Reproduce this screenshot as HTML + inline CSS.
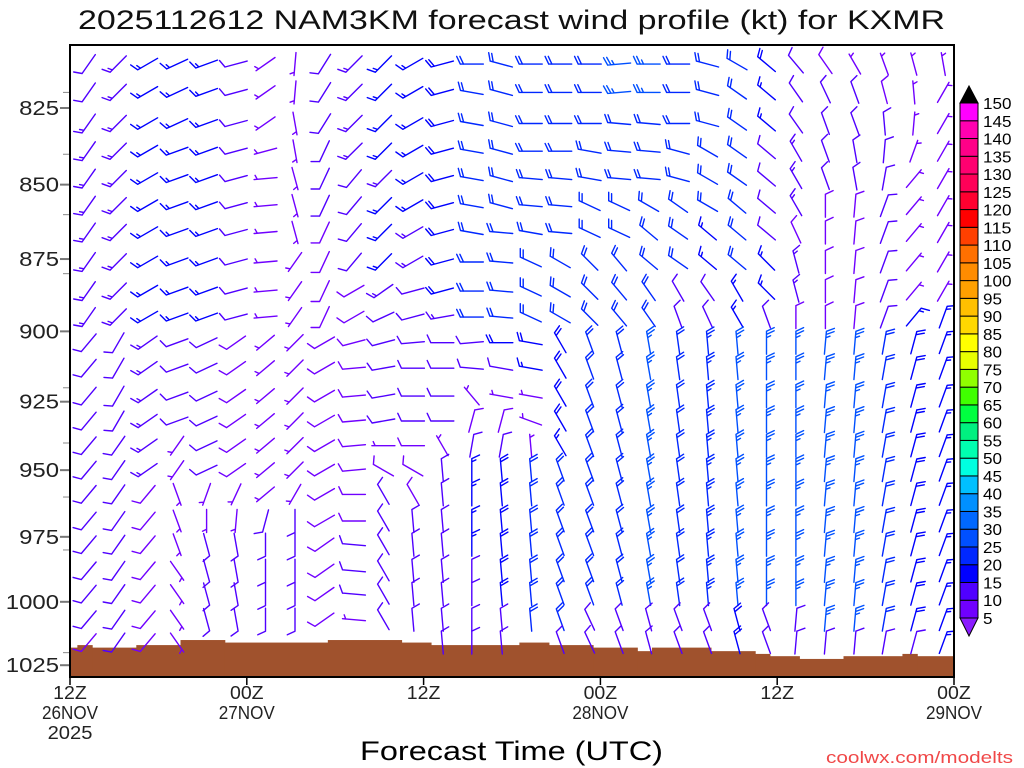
<!DOCTYPE html>
<html><head><meta charset="utf-8"><title>NAM3KM wind profile KXMR</title>
<style>
html,body{margin:0;padding:0;background:#fff;}
svg{display:block;font-family:"Liberation Sans",sans-serif;}
</style></head>
<body>
<svg id="chart" width="1024" height="768" viewBox="0 0 1024 768" xmlns="http://www.w3.org/2000/svg">
  <rect x="0" y="0" width="1024" height="768" fill="#fff"/>
  <text x="78" y="29" font-size="27" textLength="867" lengthAdjust="spacingAndGlyphs" fill="#111">2025112612 NAM3KM forecast wind profile (kt) for KXMR</text>
  <defs><clipPath id="plotclip"><rect x="70" y="45" width="884" height="632"/></clipPath></defs>
  <g id="terrain" clip-path="url(#plotclip)"></g>
  <g id="barbs" clip-path="url(#plotclip)"></g>
  <g id="yaxis"></g>
  <g id="xaxis"></g>
  <rect x="70" y="45" width="884" height="632" fill="none" stroke="#000" stroke-width="2"/>
  <g id="cbar"></g>
  <text x="360" y="760" font-size="27" textLength="303" lengthAdjust="spacingAndGlyphs" fill="#000">Forecast Time (UTC)</text>
  <text x="826" y="763" font-size="17" textLength="187" lengthAdjust="spacingAndGlyphs" fill="#f04848">coolwx.com/modelts</text>
</svg>
<script>
// ---- data ----
const levels = [811,820,830,839,848,857,866,876,886,895,904,913,923,932,941,950,959,969,978,988,997,1007,1016];
const hours = [1,3,5,7,9,11,13,15,17,19,21,23,25,27,29,31,33,35,37,39,41,43,45,47,49,51,53,55,57,59];
const sfcHours = [0,0.5,1.5,4.5,7.5,10.5,17.5,22.5,24.5,30.5,32.5,35.5,38.5,39.5,43.5,46.5,47.5,49.5,52.5,56.5,57.5];
const sfcPres  = [1018,1017,1018,1017,1015,1016,1015,1016,1017,1016,1017,1018,1019.4,1018,1019.4,1020.5,1021.4,1022.5,1021.4,1020.5,1021.4];
const yTicks = [825,850,875,900,925,950,975,1000,1025];
const yMinor = [820,840,860,880,900,920,940,960,980,1000,1020];
const xTickHours = [0,12,24,36,48,60];
const xTickL1 = ["12Z","00Z","12Z","00Z","12Z","00Z"];
const xTickL2 = ["26NOV","27NOV","","28NOV","","29NOV"];
const xTickL3 = ["2025","","","","",""];
const cbarValues = [5,10,15,20,25,30,35,40,45,50,55,60,65,70,75,80,85,90,95,100,105,110,115,120,125,130,135,140,145,150];
const cbarColors = ["#7000ff","#5000ff","#0000ff","#0028ff","#0050ff","#0068ff","#0090ff","#00c0ff","#00ffe0","#00ffb0","#00f080","#00ff40","#40ff00","#90ff00","#e8ff00","#ffff00","#ffd800","#ffc000","#ffa000","#ff8c00","#ff7000","#ff4000","#ff0000","#ff0030","#ff0058","#ff0070","#ff0088","#ff00b0","#ff00ff"];
const R = (v,n)=>Array(n).fill(v);
// wind direction (deg from) per column, 23 levels each
const dirs = [
 [...R(215,10),...R(220,13)],
 [...R(225,10),...R(210,4),...R(215,9)],
 [...R(240,10),...R(235,6),...R(220,7)],
 [245,245,245,...R(250,7),...R(250,4),215,215,160,160,160,...R(145,4)],
 [...R(250,10),...R(245,6),200,180,...R(165,5)],
 [...R(255,10),...R(235,6),205,185,...R(170,5)],
 [235,235,235,255,...R(265,6),...R(230,7),195,...R(180,5)],
 [185,185,170,170,165,165,165,215,215,215,...R(225,6),210,...R(180,6)],
 [212,212,212,205,205,205,...R(205,4),...R(240,8),...R(235,5)],
 [...R(225,4),...R(220,4),240,240,255,...R(265,5),270,270,275,275,275,275,275],
 [...R(225,8),235,245,255,260,260,260,270,300,...R(330,7)],
 [...R(240,8),255,255,265,270,270,270,270,300,330,...R(355,6)],
 [...R(255,9),260,...R(270,4),330,...R(355,8)],
 [270,...R(280,6),270,270,270,265,275,320,15,10,...R(0,8)],
 [...R(285,6),...R(275,4),270,280,280,15,10,...R(355,8)],
 [270,270,270,270,275,275,280,295,295,295,280,280,280,290,355,...R(355,7),350],
 [270,270,270,270,275,275,275,300,300,300,...R(330,5),...R(340,8)],
 [270,270,270,280,280,295,295,315,315,315,...R(340,11),335,335],
 [265,265,275,275,275,295,295,320,320,320,...R(345,11),340,340],
 [270,270,275,275,275,300,310,310,325,325,...R(350,11),345,345],
 [270,270,270,285,285,305,305,305,330,340,...R(352,11),340,340],
 [285,285,285,300,300,300,310,310,325,335,...R(355,11),340,340],
 [300,305,305,305,305,310,310,310,330,330,...R(355,11),345,345],
 [310,310,310,310,310,310,310,315,315,340,...R(0,11),340,340],
 [320,325,325,330,330,330,335,345,345,0,...R(0,11),5,5],
 [325,335,340,340,340,0,0,0,0,0,...R(5,12),5],
 [330,340,340,350,350,5,5,5,5,5,...R(5,12),5],
 [340,345,355,5,10,20,20,20,20,20,...R(10,12),10],
 [345,355,5,20,40,40,40,40,40,40,...R(15,12),15],
 [350,...R(30,8),...R(20,14)]
];
// wind speed (kt) per column
const spds = [
 [10,10,...R(13,8),...R(10,12),8],
 [...R(14,10),...R(12,4),...R(10,9)],
 [...R(15,10),...R(13,6),...R(8,7)],
 [15,15,15,...R(17,7),...R(10,4),6,6,6,6,6,6,6,6,6],
 [15,15,15,...R(17,7),...R(10,6),6,6,...R(10,5)],
 [...R(12,10),...R(8,6),6,6,...R(10,5)],
 [...R(7,10),...R(7,7),10,...R(10,5)],
 [...R(6,10),...R(7,6),7,...R(10,6)],
 [12,12,12,10,10,10,...R(8,4),...R(8,8),...R(8,5)],
 [...R(13,4),...R(10,4),8,8,8,...R(8,5),8,8,10,10,10,7,7],
 [15,15,15,15,13,15,15,15,13,10,10,10,10,10,7,8,...R(10,7)],
 [...R(15,6),13,13,10,10,10,10,10,10,8,8,8,...R(10,6)],
 [...R(18,9),13,...R(10,4),6,...R(12,8)],
 [...R(20,10),12,10,6,8,12,...R(17,4),...R(10,4)],
 [...R(20,10),18,12,6,8,10,...R(18,6),10,10],
 [...R(20,10),18,17,7,6,7,...R(20,7),10],
 [...R(20,10),...R(18,4),15,...R(20,7),10],
 [22,22,22,20,20,20,20,22,22,22,...R(22,11),10,10],
 [27,27,...R(22,8),...R(22,11),10,10],
 [27,27,...R(22,8),...R(25,11),10,10],
 [...R(20,8),12,12,...R(22,11),10,10],
 [...R(20,6),15,15,10,12,...R(23,11),10,10],
 [...R(20,8),15,15,...R(27,11),18,18],
 [18,15,15,12,12,12,12,15,15,12,...R(27,11),12,12],
 [10,12,12,13,13,13,8,13,13,8,...R(25,11),10,10],
 [8,12,12,12,12,8,8,8,8,8,...R(25,12),10],
 [7,10,10,12,12,8,8,8,8,8,...R(25,12),10],
 [7,8,10,10,10,10,10,10,10,10,...R(22,12),10],
 [...R(7,9),15,...R(18,12),10],
 [...R(7,9),...R(15,14)]
];

// ---- axes ----
const NS="http://www.w3.org/2000/svg";
const X0=70,X1=954,Y0=45,Y1=677;
const xOf = h => X0 + h*(X1-X0)/60;
const yOf = p => 108 + 2567*Math.log(p/825);
function mk(tag, attrs, parent){const e=document.createElementNS(NS,tag);for(const k in attrs)e.setAttribute(k,attrs[k]);parent.appendChild(e);return e;}
function spdColor(s){let i=Math.floor((s-5)/5);if(i<0)i=0;if(i>28)i=28;return cbarColors[i];}

// terrain
const tg=document.getElementById('terrain');
for(let i=0;i<sfcHours.length;i++){
  const h0=sfcHours[i], h1=(i+1<sfcHours.length)?sfcHours[i+1]:60;
  const r=mk('rect',{x:xOf(h0),y:yOf(sfcPres[i]),width:xOf(h1)-xOf(h0)+0.6,height:Y1-yOf(sfcPres[i]),fill:'#a0522d'},tg);
  
  
}
function sfcAt(h){let p=sfcPres[0];for(let i=0;i<sfcHours.length;i++){if(h>=sfcHours[i])p=sfcPres[i];}return p;}

// barbs
const bg=document.getElementById('barbs');
const L=23, FULL=8.5, HALF=4.5, GAP=3.2, ROT=65*Math.PI/180;
for(let c=0;c<hours.length;c++){
  const sp=sfcAt(hours[c]);
  for(let r=0;r<levels.length;r++){
    if(levels[r]>=sp) continue;
    const d=dirs[c][r]*Math.PI/180, s=spds[c][r];
    const cx=xOf(hours[c])+4, cy=yOf(levels[r]);
    const ux=Math.sin(d), uy=-Math.cos(d);
    const bx=cx-ux*L/2, by=cy-uy*L/2, tx=cx+ux*L/2, ty=cy+uy*L/2;
    const a=Math.atan2(uy,ux)+ROT, kx=Math.cos(a), ky=Math.sin(a);
    let n5=Math.round(s/5), full=Math.floor(n5/2), half=n5%2;
    let dpath=`M${bx.toFixed(1)} ${by.toFixed(1)}L${tx.toFixed(1)} ${ty.toFixed(1)}`;
    let idx=0;
    for(let f=0;f<full;f++){const px=tx-ux*GAP*idx,py=ty-uy*GAP*idx;dpath+=`M${px.toFixed(1)} ${py.toFixed(1)}l${(kx*FULL).toFixed(1)} ${(ky*FULL).toFixed(1)}`;idx++;}
    if(half){if(full===0)idx=1;const px=tx-ux*GAP*idx,py=ty-uy*GAP*idx;dpath+=`M${px.toFixed(1)} ${py.toFixed(1)}l${(kx*HALF).toFixed(1)} ${(ky*HALF).toFixed(1)}`;}
    const p=mk('path',{d:dpath,stroke:spdColor(s),'stroke-width':1.4,fill:'none','stroke-linecap':'round'},bg);
    
    
  }
}

// y axis
const ya=document.getElementById('yaxis');
yMinor.forEach(v=>{const y=yOf(v);const t=mk('line',{x1:63,x2:70,y1:y,y2:y,stroke:'#888','stroke-width':1},ya);
  
  });
yTicks.forEach(v=>{const y=yOf(v);
  const t=mk('line',{x1:60,x2:70,y1:y,y2:y,stroke:'#777','stroke-width':2},ya);
  
  
  const s=String(v);
  const tx=mk('text',{x:59,y:y+7,'font-size':20,'text-anchor':'end',textLength:s.length*13.3,lengthAdjust:'spacingAndGlyphs',fill:'#222'},ya);
  tx.textContent=s;
  
  
});
// x axis
const xa=document.getElementById('xaxis');
xTickHours.forEach((h,i)=>{const x=xOf(h);
  const t=mk('line',{x1:x,x2:x,y1:677,y2:685,stroke:'#000','stroke-width':1.5},xa);
  
  
  [[xTickL1[i],699],[xTickL2[i],719],[xTickL3[i],739]].forEach(([s,y])=>{ if(!s) return;
    const tx=mk('text',{x:x,y:y,'font-size':18,'text-anchor':'middle',textLength:s.length*11.2,lengthAdjust:'spacingAndGlyphs',fill:'#222'},xa);
    tx.textContent=s;
    
    
  });
});
// colorbar
const cb=document.getElementById('cbar');
const CX=960,CW=18,CB=618,CT=103,BH=(CB-CT)/29;
for(let i=0;i<29;i++){
  const r=mk('rect',{x:CX,y:CB-(i+1)*BH,width:CW,height:BH,fill:cbarColors[i],stroke:'#000','stroke-width':1},cb);
  
  
}
const tt=mk('polygon',{points:`${CX},${CT} ${CX+CW},${CT} ${CX+CW/2},${CT-17}`,fill:'#000',stroke:'#000'},cb);


const tb=mk('polygon',{points:`${CX},${CB} ${CX+CW},${CB} ${CX+CW/2},${CB+18}`,fill:'#8a1cff',stroke:'#000'},cb);


cbarValues.forEach((v,i)=>{const y=CB-i*BH;const s=String(v);
  const tx=mk('text',{x:983,y:y+6,'font-size':16,textLength:s.length*9.5,lengthAdjust:'spacingAndGlyphs',fill:'#000'},cb);
  tx.textContent=s;
  
  
});
</script>
</body></html>
